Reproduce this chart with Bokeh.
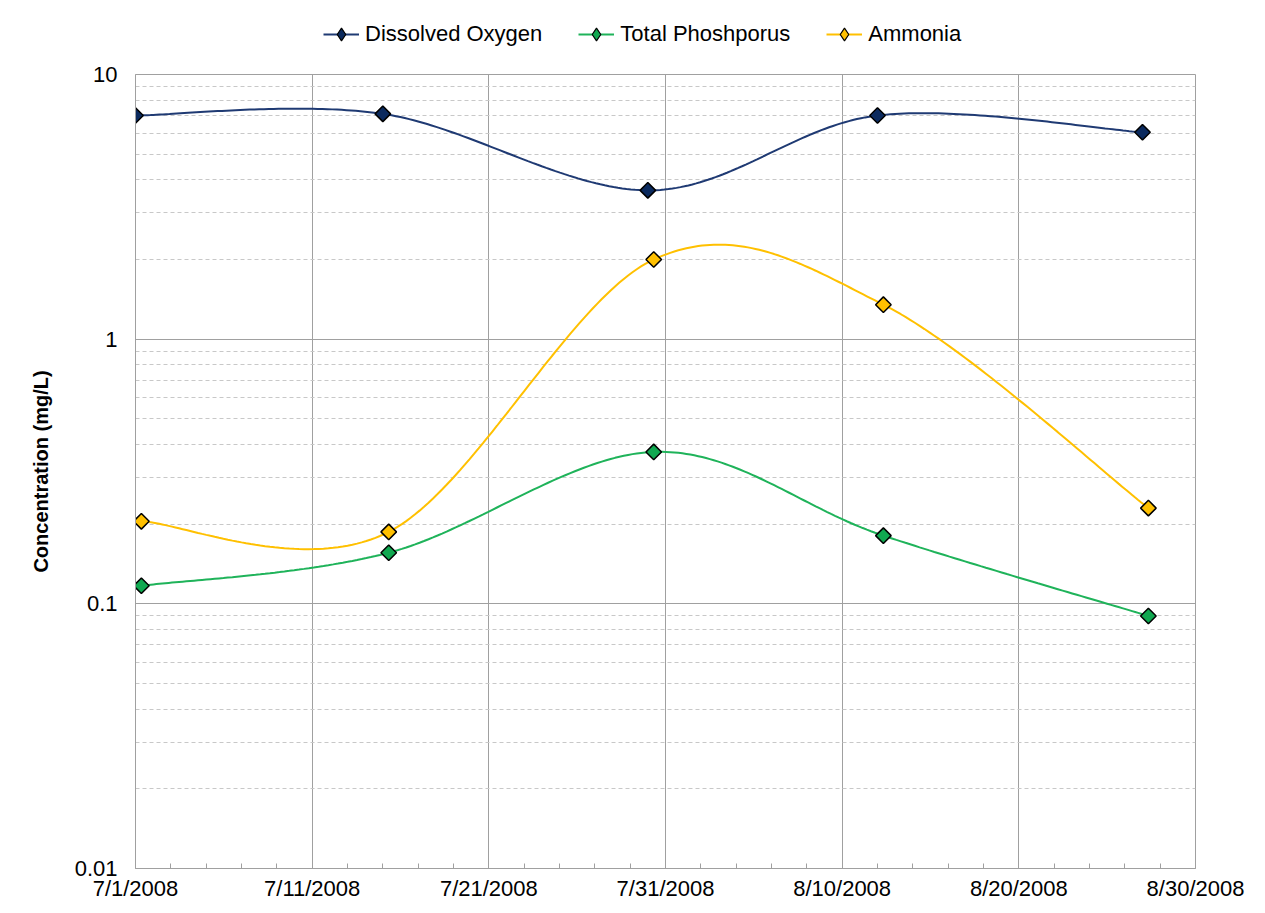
import numpy as np
import pandas as pd
from bokeh.plotting import figure
from bokeh.layouts import column
from bokeh.models import (FixedTicker, CustomJSTickFormatter, Legend, LegendItem,
                          Range1d, ColumnDataSource)
from bokeh.embed import file_html
from bokeh.resources import INLINE

# ---------------- data ----------------
do_dates = ["2008-07-01 00:00", "2008-07-15 00:00", "2008-07-30 00:00",
            "2008-08-12 00:00", "2008-08-27 00:00"]
nutrient_dates = ["2008-07-01 08:00", "2008-07-15 08:00", "2008-07-30 08:00",
                  "2008-08-12 08:00", "2008-08-27 08:00"]
dissolved_oxygen = [7.0, 7.1, 3.65, 7.0, 6.05]
total_phosphorus = [0.117, 0.156, 0.375, 0.181, 0.09]
ammonia = [0.205, 0.187, 2.0, 1.35, 0.23]

x_tick_dates = ["2008-07-01", "2008-07-11", "2008-07-21", "2008-07-31",
                "2008-08-10", "2008-08-20", "2008-08-30"]
y_ticks = [0.01, 0.1, 1, 10]

# spelling kept as in the original legend
legend_labels = ["Dissolved Oxygen", "Total Phoshporus", "Ammonia"]


def to_ms(dates):
    return (pd.to_datetime(dates).astype("int64") // 10**6).astype(float).to_numpy()


def smooth(xs, ys, n=60):
    """Excel-like smoothed line (Catmull-Rom Bezier) in (x, log10 y) space."""
    x = np.asarray(xs, float)
    y = np.log10(np.asarray(ys, float))
    px = np.concatenate([[x[0]], x, [x[-1]]])
    py = np.concatenate([[y[0]], y, [y[-1]]])
    ox, oy = [], []
    t = np.linspace(0, 1, n)
    for i in range(1, len(px) - 2):
        p0x, p0y = px[i], py[i]
        p3x, p3y = px[i + 1], py[i + 1]
        c1x = p0x + (px[i + 1] - px[i - 1]) / 6.0
        c1y = p0y + (py[i + 1] - py[i - 1]) / 6.0
        c2x = p3x - (px[i + 2] - px[i]) / 6.0
        c2y = p3y - (py[i + 2] - py[i]) / 6.0
        bx = ((1 - t) ** 3) * p0x + 3 * ((1 - t) ** 2) * t * c1x + 3 * (1 - t) * t ** 2 * c2x + t ** 3 * p3x
        by = ((1 - t) ** 3) * p0y + 3 * ((1 - t) ** 2) * t * c1y + 3 * (1 - t) * t ** 2 * c2y + t ** 3 * p3y
        if i > 1:
            bx, by = bx[1:], by[1:]
        ox.extend(bx)
        oy.extend(by)
    return np.array(ox), 10 ** np.array(oy)


FONT = "Liberation Sans"
GRID = "#a0a0a0"
LEG_H = 62

x_ticks_ms = to_ms(x_tick_dates)
x_minor_ms = np.arange(x_ticks_ms[0], x_ticks_ms[-1] + 1, 2 * 86400000.0)

p = figure(width=1264, height=911 - LEG_H, output_backend="svg", toolbar_location=None,
           x_axis_type="datetime", y_axis_type="log",
           x_range=Range1d(x_ticks_ms[0], x_ticks_ms[-1]),
           y_range=Range1d(y_ticks[0], y_ticks[-1]),
           min_border_left=135, min_border_right=69, min_border_top=74 - LEG_H,
           min_border_bottom=43)
p.background_fill_color = "white"
p.border_fill_color = "white"
p.outline_line_color = GRID
p.outline_line_width = 1

# ---- axes ----
xt = FixedTicker(ticks=list(x_ticks_ms), minor_ticks=list(x_minor_ms))
p.xaxis.ticker = xt
p.xaxis.formatter = CustomJSTickFormatter(code="""
const d = new Date(tick);
return (d.getUTCMonth() + 1) + "/" + d.getUTCDate() + "/" + d.getUTCFullYear();
""")
minor_y = [k * 10.0 ** e for e in (-2, -1, 0) for k in range(2, 10)]
yt = FixedTicker(ticks=y_ticks, minor_ticks=minor_y)
p.yaxis.ticker = yt
p.yaxis.formatter = CustomJSTickFormatter(code="""
return tick >= 1 ? tick.toFixed(0) : String(parseFloat(tick.toPrecision(3)));
""")

for ax in (p.xaxis[0], p.yaxis[0]):
    ax.axis_line_color = GRID
    ax.major_tick_in = 0
    ax.major_tick_out = 0
    ax.major_label_text_font = FONT
    ax.major_label_text_font_size = "22px"
    ax.major_label_text_color = "black"
p.xaxis.minor_tick_in = 5
p.xaxis.minor_tick_out = 0
p.xaxis.minor_tick_line_color = GRID
p.xaxis.major_label_standoff = 7
p.yaxis.minor_tick_in = 0
p.yaxis.minor_tick_out = 0
p.yaxis.major_label_standoff = 18
p.yaxis.axis_label = "Concentration (mg/L)"
p.yaxis.axis_label_text_font = FONT
p.yaxis.axis_label_text_font_size = "20px"
p.yaxis.axis_label_text_font_style = "bold"
p.yaxis.axis_label_text_color = "black"
p.yaxis.axis_label_standoff = 20

# ---- grids ----
p.xgrid.ticker = xt
p.xgrid.grid_line_color = GRID
p.xgrid.minor_grid_line_color = None
p.ygrid.ticker = yt
p.ygrid.grid_line_color = GRID
p.ygrid.minor_grid_line_color = "#c8c8c8"
p.ygrid.minor_grid_line_dash = "4 3"

# ---- series ----
do_x = to_ms(do_dates)
nut_x = to_ms(nutrient_dates)
series = [
    (do_x, dissolved_oxygen, "#1f3a73", "#0b2a5e"),
    (nut_x, total_phosphorus, "#1fb35a", "#10a850"),
    (nut_x, ammonia, "#ffc000", "#ffc000"),
]

# legend strip (own small figure so the legend can sit over the whole chart)
lp = figure(width=1264, height=LEG_H, output_backend="svg", toolbar_location=None,
            x_axis_location=None, y_axis_location=None,
            x_range=Range1d(0, 1), y_range=Range1d(0, 1),
            min_border=0)
lp.outline_line_color = None
lp.grid.visible = False
lp.background_fill_color = "white"
lp.border_fill_color = "white"

items = []
for (xs, ys, lc, fc), lab in zip(series, legend_labels):
    sx, sy = smooth(xs, ys)
    p.line(x=sx, y=sy, line_color=lc, line_width=2)
    src = ColumnDataSource(dict(x=xs, y=ys))
    p.scatter(x="x", y="y", source=src, marker="square", angle=np.pi / 4,
              size=11, fill_color=fc, line_color="black", line_width=1.5)
    # legend-only renderers (a single NaN point: nothing is drawn in the strip)
    key = ColumnDataSource(dict(x=[np.nan], y=[np.nan]))
    llr = lp.line(x="x", y="y", source=key, line_color=lc, line_width=2)
    lmr = lp.scatter(x="x", y="y", source=key, marker="diamond", size=14,
                     fill_color=fc, line_color="black", line_width=1.2)
    items.append(LegendItem(label=lab, renderers=[llr, lmr]))

legend = Legend(items=items, orientation="horizontal", location=(183, 7),
                label_text_font=FONT, label_text_font_size="22px",
                label_text_color="black", glyph_width=36, glyph_height=32,
                label_standoff=6, spacing=36, padding=5, margin=0,
                border_line_alpha=0, background_fill_alpha=0)
lp.add_layout(legend, "center")

layout = column(lp, p, spacing=0)

open("out.html", "w").write(file_html(layout, INLINE))
